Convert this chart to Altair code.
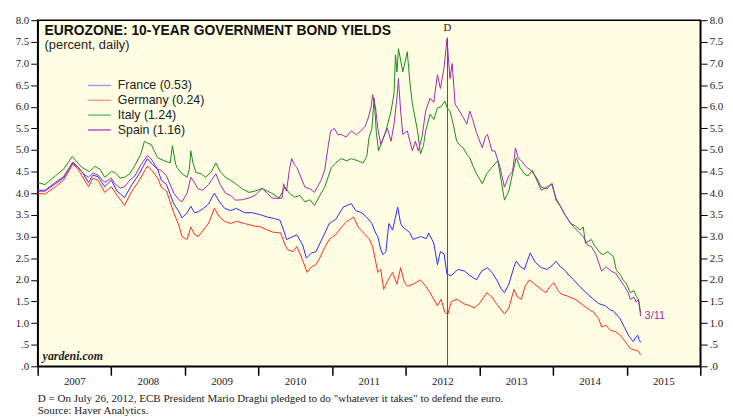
import altair as alt
import pandas as pd

# ---------------- data (decimal years, percent) ----------------
france_t = [2007.00, 2007.10, 2007.24, 2007.35, 2007.48, 2007.55, 2007.62, 2007.69, 2007.75, 2007.82, 2007.91,
            2008.00, 2008.08, 2008.18, 2008.28, 2008.38, 2008.49, 2008.54, 2008.63, 2008.68, 2008.75, 2008.85,
            2008.91, 2008.96, 2009.03, 2009.08, 2009.13, 2009.18, 2009.25, 2009.32, 2009.40, 2009.47, 2009.54,
            2009.62, 2009.70, 2009.81, 2009.92, 2010.03, 2010.12, 2010.20, 2010.29, 2010.35, 2010.38, 2010.47,
            2010.52, 2010.60, 2010.65, 2010.72, 2010.78, 2010.85, 2010.92, 2010.96, 2011.05, 2011.15, 2011.26,
            2011.32, 2011.40, 2011.46, 2011.54, 2011.59, 2011.62, 2011.66, 2011.69, 2011.73, 2011.77, 2011.82,
            2011.86, 2011.89, 2011.93, 2011.96, 2012.05, 2012.10, 2012.20, 2012.28, 2012.31, 2012.38, 2012.43,
            2012.47, 2012.52, 2012.56, 2012.62, 2012.71, 2012.80, 2012.87, 2012.96, 2013.03, 2013.11, 2013.18,
            2013.25, 2013.30, 2013.34, 2013.40, 2013.47, 2013.50, 2013.56, 2013.61, 2013.69, 2013.76, 2013.84,
            2013.92, 2014.00, 2014.04, 2014.10, 2014.15, 2014.22, 2014.28, 2014.36, 2014.45, 2014.55, 2014.62,
            2014.71, 2014.78, 2014.82, 2014.91, 2014.97, 2015.03, 2015.09, 2015.13, 2015.15, 2015.17, 2015.19]
france_v = [4.05, 4.05, 4.22, 4.35, 4.72, 4.60, 4.45, 4.25, 4.42, 4.38, 4.15,
            4.30, 4.05, 3.90, 4.20, 4.45, 4.80, 4.70, 4.55, 4.30, 4.20, 3.75,
            3.60, 3.43, 3.55, 3.70, 3.55, 3.57, 3.65, 3.75, 4.00, 3.80, 3.65,
            3.60, 3.65, 3.55, 3.55, 3.50, 3.45, 3.42, 3.38, 3.10, 2.93, 3.00,
            3.04, 2.80, 2.50, 2.62, 2.65, 2.90, 3.15, 3.30, 3.40, 3.68, 3.76,
            3.60, 3.55, 3.46, 3.30, 3.08, 3.00, 2.70, 2.58, 2.65, 3.30, 3.15,
            3.45, 3.68, 3.30, 3.22, 3.10, 2.93, 3.00, 2.95, 3.08, 2.85, 2.35,
            2.65, 2.60, 2.12, 2.10, 2.24, 2.20, 2.10, 2.00, 2.20, 2.28, 2.15,
            1.95, 1.78, 1.70, 1.90, 2.30, 2.43, 2.30, 2.24, 2.62, 2.40, 2.28,
            2.24, 2.35, 2.43, 2.30, 2.24, 2.10, 2.00, 1.85, 1.70, 1.55, 1.45,
            1.40, 1.30, 1.28, 1.10, 0.90, 0.70, 0.57, 0.68, 0.72, 0.62, 0.55]

germany_t = [2007.00, 2007.10, 2007.24, 2007.35, 2007.48, 2007.55, 2007.62, 2007.69, 2007.75, 2007.82, 2007.91,
             2008.00, 2008.08, 2008.18, 2008.28, 2008.38, 2008.49, 2008.54, 2008.63, 2008.68, 2008.75, 2008.85,
             2008.92, 2008.96, 2009.03, 2009.08, 2009.13, 2009.18, 2009.25, 2009.32, 2009.40, 2009.47, 2009.54,
             2009.62, 2009.70, 2009.81, 2009.92, 2010.03, 2010.12, 2010.20, 2010.30, 2010.35, 2010.39, 2010.47,
             2010.52, 2010.60, 2010.66, 2010.72, 2010.78, 2010.83, 2010.90, 2010.96, 2011.05, 2011.13, 2011.20,
             2011.29, 2011.36, 2011.43, 2011.50, 2011.55, 2011.62, 2011.66, 2011.70, 2011.76, 2011.82, 2011.88,
             2011.93, 2011.98, 2012.02, 2012.10, 2012.20, 2012.27, 2012.33, 2012.38, 2012.43, 2012.48, 2012.53,
             2012.57, 2012.62, 2012.70, 2012.78, 2012.87, 2012.93, 2013.00, 2013.10, 2013.17, 2013.25, 2013.30,
             2013.34, 2013.40, 2013.47, 2013.52, 2013.57, 2013.62, 2013.68, 2013.75, 2013.81, 2013.90, 2013.96,
             2014.01, 2014.07, 2014.11, 2014.20, 2014.30, 2014.42, 2014.50, 2014.55, 2014.62, 2014.66, 2014.72,
             2014.78, 2014.85, 2014.91, 2014.97, 2015.02, 2015.05, 2015.10, 2015.13, 2015.16, 2015.19]
germany_v = [4.00, 3.98, 4.15, 4.30, 4.68, 4.55, 4.35, 4.15, 4.35, 4.30, 4.02,
             4.15, 3.95, 3.72, 4.05, 4.30, 4.63, 4.55, 4.35, 4.14, 4.05, 3.54,
             3.25, 3.00, 2.93, 3.22, 3.05, 3.00, 3.15, 3.30, 3.65, 3.45, 3.35,
             3.30, 3.35, 3.30, 3.25, 3.22, 3.15, 3.10, 3.08, 2.85, 2.70, 2.65,
             2.77, 2.45, 2.17, 2.30, 2.35, 2.50, 2.75, 2.93, 3.05, 3.22, 3.35,
             3.45, 3.20, 3.08, 2.95, 2.77, 2.17, 2.25, 1.78, 2.00, 2.17, 1.90,
             2.28, 1.95, 1.85, 1.90, 2.00, 1.85, 1.70, 1.55, 1.40, 1.55, 1.25,
             1.20, 1.50, 1.55, 1.45, 1.40, 1.35, 1.45, 1.70, 1.60, 1.40, 1.30,
             1.21, 1.35, 1.78, 1.60, 1.55, 1.85, 2.00, 1.90, 1.82, 1.70, 1.85,
             1.93, 1.75, 1.67, 1.62, 1.55, 1.40, 1.30, 1.25, 1.10, 0.91, 0.95,
             0.83, 0.80, 0.72, 0.60, 0.48, 0.41, 0.38, 0.37, 0.35, 0.26]

italy_t = [2007.00, 2007.10, 2007.24, 2007.35, 2007.47, 2007.52, 2007.60, 2007.70, 2007.78, 2007.85, 2007.91,
           2008.00, 2008.05, 2008.12, 2008.18, 2008.25, 2008.32, 2008.40, 2008.45, 2008.50, 2008.54, 2008.63,
           2008.72, 2008.80, 2008.83, 2008.87, 2008.89, 2008.96, 2009.03, 2009.06, 2009.08, 2009.11, 2009.15,
           2009.22, 2009.28, 2009.36, 2009.42, 2009.48, 2009.55, 2009.62, 2009.69, 2009.78, 2009.87, 2009.95,
           2010.05, 2010.12, 2010.18, 2010.28, 2010.36, 2010.42, 2010.49, 2010.56, 2010.63, 2010.70, 2010.76,
           2010.85, 2010.90, 2010.95, 2010.99, 2011.05, 2011.12, 2011.20, 2011.26, 2011.35, 2011.42, 2011.47,
           2011.50, 2011.54, 2011.57, 2011.60, 2011.63, 2011.68, 2011.73, 2011.80, 2011.84, 2011.86, 2011.88,
           2011.90, 2011.96, 2012.00, 2012.02, 2012.06, 2012.09, 2012.16, 2012.20, 2012.24, 2012.27, 2012.33,
           2012.38, 2012.43, 2012.48, 2012.53, 2012.57, 2012.60, 2012.65, 2012.69, 2012.74, 2012.78, 2012.83,
           2012.87, 2012.92, 2012.96, 2013.04, 2013.10, 2013.17, 2013.25, 2013.30, 2013.34, 2013.40, 2013.43,
           2013.50, 2013.55, 2013.61, 2013.66, 2013.72, 2013.78, 2013.84, 2013.92, 2013.99, 2014.04, 2014.10,
           2014.15, 2014.24, 2014.30, 2014.37, 2014.41, 2014.44, 2014.52, 2014.56, 2014.64, 2014.68, 2014.74,
           2014.79, 2014.82, 2014.86, 2014.92, 2014.95, 2014.99, 2015.05, 2015.10, 2015.13, 2015.16, 2015.19]
italy_v = [4.25, 4.20, 4.40, 4.55, 4.85, 4.75, 4.60, 4.50, 4.62, 4.55, 4.37,
           4.50, 4.48, 4.35, 4.37, 4.45, 4.64, 4.90, 5.20, 5.15, 5.13, 4.82,
           4.75, 4.70, 5.10, 4.70, 4.60, 4.45, 4.37, 4.55, 4.98, 4.70, 4.48,
           4.45, 4.37, 4.50, 4.70, 4.50, 4.37, 4.30, 4.22, 4.10, 4.02, 4.05,
           4.11, 4.05, 4.00, 3.89, 4.14, 4.00, 3.91, 3.95, 3.80, 3.85, 3.72,
           4.00, 4.14, 4.40, 4.60, 4.70, 4.80, 4.75, 4.80, 4.75, 4.70, 4.85,
           5.28, 5.50, 6.20, 5.40, 4.98, 5.20, 5.44, 5.90, 6.30, 7.20, 6.80,
           7.34, 6.81, 7.10, 7.27, 6.50, 6.06, 5.44, 4.91, 5.10, 5.44, 5.83,
           5.70, 5.97, 6.00, 6.13, 5.95, 5.90, 5.55, 5.21, 5.10, 5.05, 4.90,
           4.82, 4.60, 4.45, 4.22, 4.45, 4.60, 4.75, 4.25, 3.84, 4.05, 4.30,
           4.82, 4.60, 4.45, 4.40, 4.53, 4.30, 4.07, 4.15, 4.22, 3.84, 3.70,
           3.54, 3.30, 3.25, 3.15, 3.22, 2.85, 2.93, 2.80, 2.62, 2.58, 2.65,
           2.58, 2.54, 2.22, 2.10, 2.00, 1.93, 1.70, 1.75, 1.62, 1.55, 1.24]

spain_t = [2007.00, 2007.10, 2007.24, 2007.35, 2007.47, 2007.55, 2007.62, 2007.69, 2007.75, 2007.82, 2007.91,
           2008.00, 2008.05, 2008.12, 2008.18, 2008.25, 2008.32, 2008.40, 2008.49, 2008.54, 2008.63, 2008.68,
           2008.75, 2008.85, 2008.92, 2008.96, 2009.03, 2009.08, 2009.11, 2009.18, 2009.24, 2009.32, 2009.42,
           2009.48, 2009.55, 2009.62, 2009.69, 2009.78, 2009.87, 2009.95, 2010.05, 2010.12, 2010.18, 2010.28,
           2010.32, 2010.34, 2010.38, 2010.42, 2010.45, 2010.49, 2010.52, 2010.58, 2010.63, 2010.70, 2010.76,
           2010.85, 2010.90, 2010.95, 2010.98, 2011.03, 2011.08, 2011.12, 2011.19, 2011.26, 2011.33, 2011.39,
           2011.45, 2011.49, 2011.53, 2011.55, 2011.59, 2011.62, 2011.66, 2011.70, 2011.75, 2011.80, 2011.84,
           2011.88, 2011.90, 2011.93, 2011.96, 2012.02, 2012.09, 2012.13, 2012.17, 2012.22, 2012.27, 2012.33,
           2012.38, 2012.43, 2012.47, 2012.52, 2012.56, 2012.60, 2012.63, 2012.67, 2012.73, 2012.78, 2012.83,
           2012.87, 2012.91, 2012.96, 2013.04, 2013.08, 2013.11, 2013.17, 2013.21, 2013.28, 2013.34, 2013.40,
           2013.45, 2013.49, 2013.53, 2013.57, 2013.64, 2013.70, 2013.78, 2013.84, 2013.92, 2013.98, 2014.04,
           2014.10, 2014.15, 2014.22, 2014.28, 2014.35, 2014.41, 2014.47, 2014.52, 2014.58, 2014.66, 2014.72,
           2014.79, 2014.85, 2014.91, 2014.97, 2015.02, 2015.05, 2015.10, 2015.13, 2015.16, 2015.19]
spain_v = [4.07, 4.07, 4.25, 4.38, 4.70, 4.60, 4.45, 4.37, 4.47, 4.42, 4.25,
           4.35, 4.22, 4.12, 4.15, 4.30, 4.40, 4.65, 4.87, 4.80, 4.55, 4.53,
           4.40, 4.00, 3.85, 3.80, 4.00, 4.37, 4.30, 4.10, 4.07, 4.20, 4.45,
           4.20, 4.00, 3.95, 3.84, 3.85, 3.89, 3.95, 4.11, 4.00, 3.89, 3.88,
           3.89, 4.22, 4.05, 4.55, 4.80, 4.65, 4.60, 4.35, 4.14, 4.10, 4.02,
           4.30, 4.55, 5.13, 5.44, 5.50, 5.35, 5.36, 5.30, 5.44, 5.35, 5.44,
           5.55, 5.74, 6.00, 6.28, 5.97, 5.50, 5.13, 5.30, 5.50, 5.20, 5.60,
           6.20, 6.65, 5.90, 5.36, 5.44, 4.98, 5.20, 4.98, 5.30, 5.90, 6.20,
           6.10, 6.74, 6.42, 6.90, 7.57, 6.65, 7.00, 6.06, 5.90, 5.75, 5.60,
           5.90, 5.70, 5.40, 5.05, 5.30, 5.36, 4.98, 4.98, 4.60, 4.14, 4.40,
           4.50, 5.05, 4.80, 4.75, 4.60, 4.53, 4.35, 4.14, 4.10, 4.22, 3.89,
           3.70, 3.54, 3.35, 3.22, 3.10, 3.00, 2.80, 2.77, 2.60, 2.20, 2.30,
           2.20, 2.15, 2.00, 1.85, 1.70, 1.55, 1.60, 1.48, 1.55, 1.16]

series_names = ["France (0.53)", "Germany (0.24)", "Italy (1.24)", "Spain (1.16)"]
series_colors = ["#2b2bff", "#ff2a1a", "#168c16", "#a22ab0"]
legend_line_colors = ["#9a9aff", "#ff9a90", "#6fbf6f", "#c04cc8"]
year_ticks = list(range(2007, 2017))
y_ticks = [i * 0.5 for i in range(17)]
draghi_t = [2012.567]
last_t = [2015.19]
last_spain = [1.16]

rows = []
for name, ts, vs in zip(series_names,
                        [france_t, germany_t, italy_t, spain_t],
                        [france_v, germany_v, italy_v, spain_v]):
    for t, v in zip(ts, vs):
        rows.append({"t": t, "v": v, "series": name})
df = pd.DataFrame(rows)

SERIF = "Liberation Serif"
SANS = "Liberation Sans"

xscale = alt.Scale(domain=[2007, 2016], nice=False, zero=False)
yscale = alt.Scale(domain=[0, 8], nice=False, zero=False)

ylabel_expr = "datum.value < 1 ? replace(format(datum.value, '.1f'), '0.', '.') : format(datum.value, '.1f')"

def yaxis(orient):
    return alt.Axis(orient=orient, values=y_ticks, labelExpr=ylabel_expr, title=None, grid=False,
                    tickSize=7, tickColor="black", domainColor="black", domainWidth=1.5,
                    labelFont=SERIF, labelFontSize=11, labelColor="#222", labelPadding=2)

xaxis = alt.Axis(values=year_ticks, labelExpr="datum.value < 2016 ? format(datum.value, 'd') : ''",
                 labelOffset=37, labelFlush=False, labelOverlap=False, tickSize=9, tickWidth=1.5,
                 tickColor="black", domainColor="black", domainWidth=1.5, grid=False, title=None,
                 labelFont=SERIF, labelFontSize=11, labelColor="#222", labelPadding=0)

X = alt.X("t:Q", scale=xscale, axis=xaxis)

lines = alt.Chart(df).mark_line(strokeWidth=1, interpolate="linear").encode(
    x=X,
    y=alt.Y("v:Q", scale=yscale, axis=yaxis("left")),
    color=alt.Color("series:N", scale=alt.Scale(domain=series_names, range=series_colors), legend=None),
    order="t:Q",
)

right_axis = alt.Chart(pd.DataFrame({"t": [2007.0], "v": [0.0]})).mark_point(opacity=0).encode(
    x=X,
    y=alt.Y("v:Q", scale=yscale, axis=yaxis("right")),
)

ddf = pd.DataFrame({"t": draghi_t, "y": [7.6], "y0": [0.0], "ly": [7.82]})
drule = alt.Chart(ddf).mark_rule(color="#555", strokeWidth=1).encode(
    x=X, y=alt.Y("y:Q", scale=yscale, axis=None), y2="y0:Q")
dtext = alt.Chart(ddf).mark_text(text="D", font=SERIF, fontSize=11, color="#222", baseline="middle").encode(
    x=X, y=alt.Y("ly:Q", scale=yscale, axis=None))

ldf = pd.DataFrame({"t": last_t, "v": last_spain})
last_lbl = alt.Chart(ldf).mark_text(text="3/11", font=SANS, fontSize=11, color="#a22ab0",
                                    align="left", baseline="middle", dx=4).encode(
    x=X, y=alt.Y("v:Q", scale=yscale, axis=None))

ann = pd.DataFrame({"a": [0]})
def txt(s, x, y, **kw):
    return alt.Chart(ann).mark_text(text=s, align="left", baseline="middle", **kw).encode(
        x=alt.value(x), y=alt.value(y))

legend_layers = []
for i, (name, col) in enumerate(zip(series_names, legend_line_colors)):
    yy = 66 + 15 * i
    legend_layers.append(alt.Chart(ann).mark_rule(color=col, strokeWidth=1.5).encode(
        x=alt.value(51), x2=alt.value(74), y=alt.value(yy)))
    legend_layers.append(txt(name, 81, yy, font=SANS, fontSize=12.5, color="#222"))

title = txt("EUROZONE: 10-YEAR GOVERNMENT BOND YIELDS", 7, 10.5, font=SANS, fontSize=14,
            fontWeight="bold", color="#111")
subtitle = txt("(percent, daily)", 7, 25, font=SANS, fontSize=13, color="#222")
brand = txt("yardeni.com", 5, 340, font=SERIF, fontSize=12, fontWeight="bold", fontStyle="italic",
            color="#222")
foot1 = txt("D = On July 26, 2012, ECB President Mario Draghi pledged to do \"whatever it takes\" to defend the euro.",
            0, 383.5, font=SERIF, fontSize=11.2, color="#222")
foot2 = txt("Source: Haver Analytics.", 0, 395, font=SERIF, fontSize=11.2, color="#222")

chart = alt.layer(lines, right_axis, drule, dtext, last_lbl, title, subtitle, brand, foot1, foot2,
                  *legend_layers).resolve_scale(
    y="independent"
).properties(
    width=670, height=350,
    autosize=alt.AutoSizeParams(type="none"),
    padding={"left": 30, "top": 10, "right": 25, "bottom": 55},
    background="white",
).configure_view(
    stroke="black", strokeWidth=1.5, fill="#fffee4"
)

chart.save("out.html", embed_options={"renderer": "svg", "actions": False})
